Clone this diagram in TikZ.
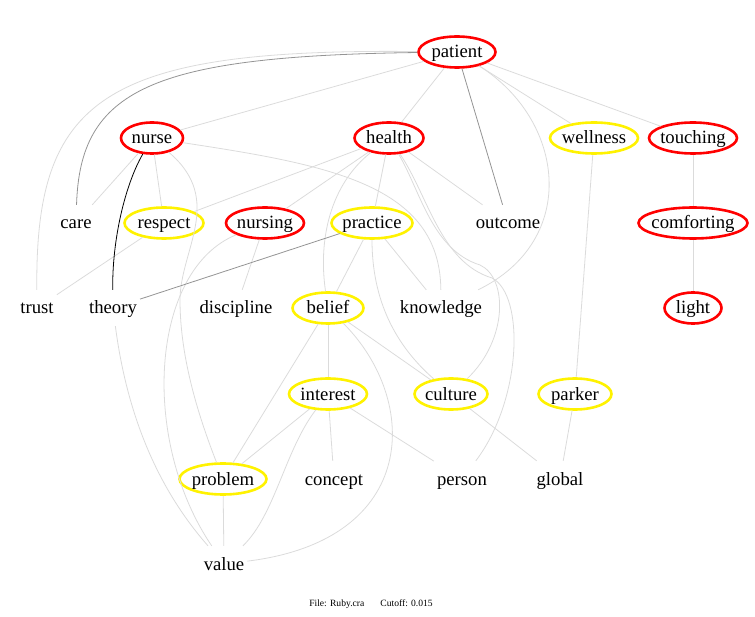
\documentclass[tikz,border=0pt]{standalone}
\usepackage{fontspec}
\setmainfont{Liberation Serif}
\usepackage{xcolor}
\usepackage{tikz}
\usetikzlibrary{shapes.geometric}

\begin{document}
\begin{tikzpicture}[x=1pt,y=-1pt,
    font=\fontsize{18.7}{22}\selectfont,
    word/.style={text height=16pt,text depth=4pt,inner xsep=3pt,inner ysep=0pt,minimum height=36pt},
    ring/.style={word,ellipse,line width=2.6pt,inner xsep=-40pt,minimum height=31pt,minimum width=#1},
    redring/.style={ring=#1,draw=red},
    yellowring/.style={ring=#1,draw=yellow},
    faintedge/.style={black!14,line width=0.8pt},
    darkedge/.style={black!42,line width=0.8pt},
    blackedge/.style={black,line width=0.8pt}]
  \useasboundingbox (0,0) rectangle (755,617);
  % terms
  \foreach \n/\x/\y/\w in {patient/457/52/77,nurse/152/138/62,health/389/138/69,touching/693/138/88,
      nursing/265/223/78,comforting/693/223/109,light/693/308/57}
    \node[redring=\w] (\n) at (\x,\y) {\n};
  \foreach \n/\x/\y/\w in {wellness/594/138/88,respect/164/223/79,practice/372/223/81,belief/328/308/71,
      interest/328/394/78,culture/451/394/73,parker/575/394/73,problem/223/479/87}
    \node[yellowring=\w] (\n) at (\x,\y) {\n};
  \foreach \n/\x/\y in {care/76/223,outcome/508/223,trust/37/308,theory/113/308,discipline/236/308,
      knowledge/441/308,concept/334/479,person/462/479,global/560/479,value/224/564}
    \node[word] (\n) at (\x,\y) {\n};
  % links
  \foreach \a/\b in {patient/nurse,patient/health,patient/wellness,patient/touching,nurse/care,nurse/respect,
      health/respect,health/nursing,health/practice,health/outcome,respect/trust,nursing/discipline,
      practice/belief,practice/knowledge,belief/interest,belief/problem,belief/culture,interest/problem,
      interest/concept,interest/person,culture/global,wellness/parker,parker/global,touching/comforting,
      comforting/light,problem/value}
    \draw[faintedge] (\a) -- (\b);
  \draw[faintedge] (patient) .. controls (100,48) and (35,100) .. (trust);
  \draw[faintedge] (patient) .. controls (565,120) and (580,240) .. (knowledge);
  \draw[faintedge] (nurse) .. controls (330,165) and (440,185) .. (knowledge);
  \draw[faintedge] (nurse) .. controls (225,200) and (180,250) .. (180,300) .. controls (180,360) and (200,420) .. (problem);
  \draw[faintedge] (nursing) .. controls (150,270) and (140,440) .. (value);
  \draw[faintedge] (health) .. controls (330,185) and (318,240) .. (belief);
  \draw[faintedge] (health) .. controls (420,190) and (432,250) .. (480,265) .. controls (508,278) and (508,340) .. (culture);
  \draw[faintedge] (health) .. controls (428,195) and (440,262) .. (492,278) .. controls (525,295) and (522,400) .. (person);
  \draw[faintedge] (practice) .. controls (372,300) and (395,345) .. (culture);
  \draw[faintedge] (belief) .. controls (420,400) and (420,540) .. (value);
  \draw[faintedge] (interest) .. controls (285,450) and (275,515) .. (value);
  \draw[faintedge] (theory) .. controls (125,400) and (150,480) .. (value);
  \draw[darkedge] (patient) .. controls (150,56) and (80,90) .. (care);
  \draw[darkedge] (patient) -- (outcome);
  \draw[darkedge] (practice) -- (theory);
  \draw[blackedge] (nurse) .. controls (125,185) and (112,240) .. (theory);
  \node[font=\fontsize{9.6}{11}\selectfont] (caption) at (371,604) {File: Ruby.cra\hspace{16pt}Cutoff: 0.015};
\end{tikzpicture}
\end{document}
